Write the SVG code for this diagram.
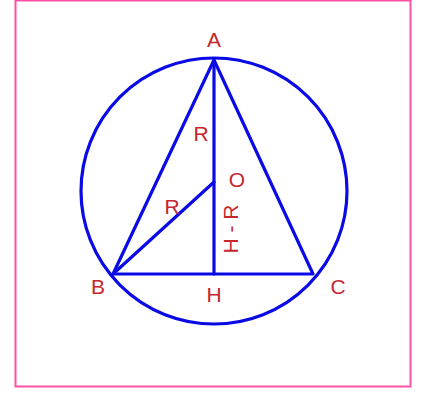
<svg xmlns="http://www.w3.org/2000/svg" width="421" height="394" viewBox="0 0 421 394">
<style>
.ln{stroke:#0a0ae6;stroke-width:3.2;fill:none;stroke-linecap:round;stroke-linejoin:round}
.lb{font-family:"Liberation Sans",Arial,sans-serif;font-size:21px;fill:#c4262e;text-anchor:middle}
</style>
<rect x="0" y="0" width="421" height="394" fill="#ffffff"/>
<rect x="15.5" y="0.5" width="395" height="386" fill="none" stroke="#ff50a5" stroke-width="2"/>
<g id="circle"><circle class="ln" cx="214" cy="191" r="133"/></g>
<g id="connectors">
<polygon class="ln" points="214,60 113,274 313,274"/>
<line class="ln" x1="214" y1="60" x2="214" y2="274"/>
<line class="ln" x1="113" y1="274" x2="214" y2="182"/>
</g>
<g id="A"><text class="lb" x="214" y="47">A</text></g>
<g id="B"><text class="lb" x="98" y="294">B</text></g>
<g id="C"><text class="lb" x="338" y="294">C</text></g>
<g id="H"><text class="lb" x="214" y="302">H</text></g>
<g id="O"><text class="lb" x="237" y="187">O</text></g>
<g id="R1"><text class="lb" x="201" y="141">R</text></g>
<g id="R2"><text class="lb" x="172" y="214">R</text></g>
<g id="HR"><text class="lb" transform="translate(238,229) rotate(-90)" x="0" y="0">H - R</text></g>
</svg>
